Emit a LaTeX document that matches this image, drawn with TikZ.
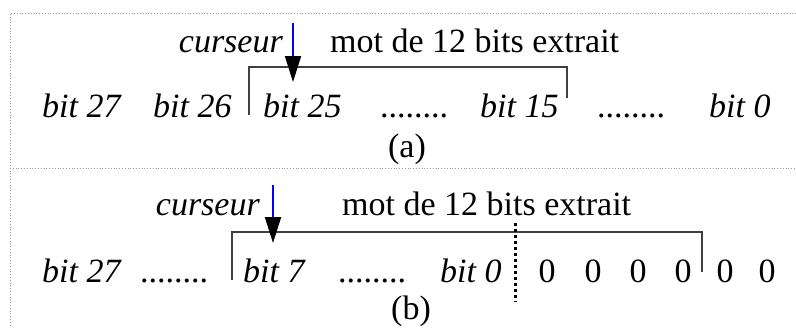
\documentclass[tikz,border=0pt]{standalone}
\usepackage{fontspec}
\setmainfont{Liberation Serif}
\usetikzlibrary{arrows.meta}

\begin{document}
\begin{tikzpicture}[x=1pt, y=-1pt,
    txt/.style={inner sep=0pt, font=\fontsize{34}{40}\selectfont},
    bitlbl/.style={txt, font=\fontsize{34}{40}\selectfont\itshape},
    bracket/.style={black!75, line width=1.3pt},
    cursor/.style={blue, line width=2pt, -{Triangle[black, length=26pt, width=16pt]}},
    frame/.style={gray!80, line width=0.8pt, dotted}]
        \useasboundingbox (0,0) rectangle (796,327);

        % Dotted frame of the two panels
        \draw[frame] (796,13) -- (10,13) -- (10,327);
        \draw[frame] (10,168) -- (796,168);

        % Panel (a)
        \node[bitlbl, anchor=base east] (curA) at (283,52) {curseur};
        \node[txt, anchor=base west] (motA) at (330,52) {mot de 12 bits extrait};
        \node[bitlbl, anchor=base west] (a27) at (42,117) {bit 27};
        \node[bitlbl, anchor=base west] (a26) at (153,117) {bit 26};
        \node[bitlbl, anchor=base west] (a25) at (263,117) {bit 25};
        \node[txt, anchor=base] (aDots1) at (414,117) {........};
        \node[bitlbl, anchor=base west] (a15) at (480,117) {bit 15};
        \node[txt, anchor=base] (aDots2) at (631,117) {........};
        \node[bitlbl, anchor=base west] (a0) at (709,117) {bit 0};
        \node[txt, anchor=base] (capA) at (407,157) {(a)};

        \coordinate (aL) at (249,115);
        \coordinate (aTop) at (567,67);
        \coordinate (aR) at (567,98);
        \draw[bracket] (aL) |- (aTop) -- (aR);

        \coordinate (aCurTop) at (293,23);
        \coordinate (aCurTip) at (293,82);
        \draw[cursor] (aCurTop) -- (aCurTip);

        % Panel (b)
        \node[bitlbl, anchor=base east] (curB) at (260,215) {curseur};
        \node[txt, anchor=base west] (motB) at (342,215) {mot de 12 bits extrait};
        \node[bitlbl, anchor=base west] (b27) at (42,282) {bit 27};
        \node[txt, anchor=base] (bDots1) at (174,282) {........};
        \node[bitlbl, anchor=base west] (b7) at (243,282) {bit 7};
        \node[txt, anchor=base] (bDots2) at (372,282) {........};
        \node[bitlbl, anchor=base west] (b0) at (440,282) {bit 0};
        \foreach \x [count=\i] in {547,593,638,683,725,767}
            \node[txt, anchor=base] (z\i) at (\x,282) {0};
        \node[txt, anchor=base] (capB) at (411,319) {(b)};

        \coordinate (bL) at (232,280);
        \coordinate (bTop) at (702,232);
        \coordinate (bR) at (702,272);
        \draw[bracket] (bL) |- (bTop) -- (bR);

        \coordinate (bCurTop) at (273,185);
        \coordinate (bCurTip) at (273,243);
        \draw[cursor] (bCurTop) -- (bCurTip);

        % Limit of the 8 bits
        \coordinate (cutTop) at (515,223);
        \coordinate (cutBot) at (515,302);
        \draw[line width=3pt, dash pattern=on 3pt off 3pt] (cutTop) -- (cutBot);
    \end{tikzpicture}
\end{document}
